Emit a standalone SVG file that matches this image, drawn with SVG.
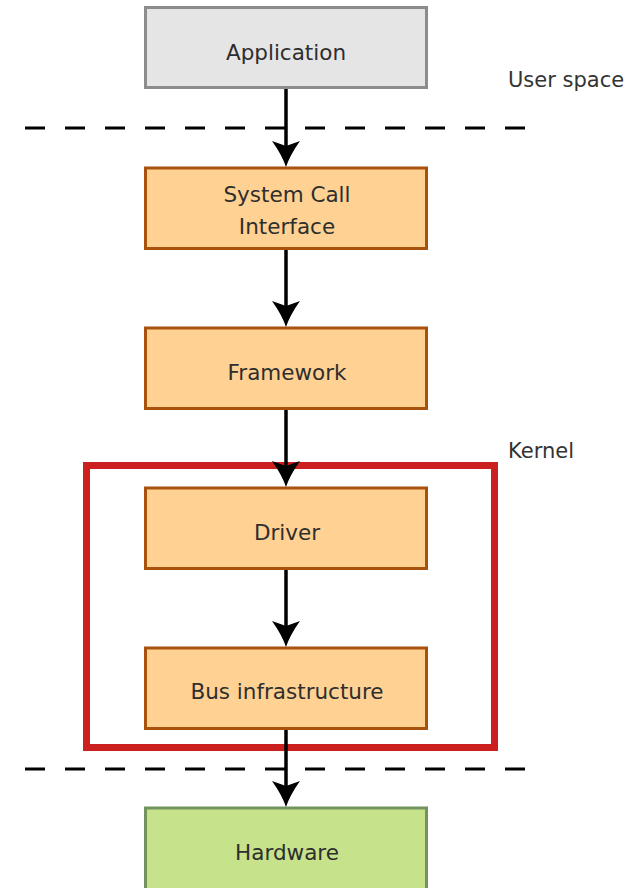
<svg xmlns="http://www.w3.org/2000/svg" width="641" height="888" viewBox="0 0 641 888">
<style>
.box{stroke-width:3}
.gray{fill:#e5e5e5;stroke:#8c8c8c}
.orange{fill:#ffd293;stroke:#a9520e}
.green{fill:#c6e28a;stroke:#72935f}
.lbl{font-family:"DejaVu Sans",sans-serif;font-size:21.5px;fill:#2e2e2e;text-anchor:middle}
.side{font-family:"DejaVu Sans",sans-serif;font-size:21px;fill:#333}
.conn{stroke:#000;stroke-width:3.5;fill:none;marker-end:url(#arr)}
.dash{stroke:#000;stroke-width:3;stroke-dasharray:20 20}
</style>
<defs>
<marker id="arr" viewBox="-20 -16 32 32" markerWidth="32" markerHeight="32" refX="0" refY="0" orient="auto" markerUnits="userSpaceOnUse">
<path d="M10,0 Q-2,-4 -16,-14 L-11,0 L-16,14 Q-2,4 10,0 Z" fill="#000"/>
</marker>
</defs>
<rect x="0" y="0" width="641" height="888" fill="#fff"/>
<g id="separators">
<line class="dash" x1="25" y1="128" x2="527" y2="128"/>
<line class="dash" x1="25" y1="769" x2="527" y2="769"/>
</g>
<g id="kernel">
<rect x="86.5" y="465.5" width="408" height="282" fill="none" stroke="#cc1f1f" stroke-width="7"/>
<text class="side" x="508" y="458">Kernel</text>
</g>
<g id="userspace">
<text class="side" x="508" y="87">User space</text>
</g>
<g id="application">
<rect class="box gray" x="145.5" y="7.5" width="281" height="80"/>
<text class="lbl" x="286" y="60">Application</text>
</g>
<g id="syscall">
<rect class="box orange" x="145.5" y="168" width="281" height="80.5"/>
<text class="lbl" x="287" y="202">System Call</text>
<text class="lbl" x="287" y="234">Interface</text>
</g>
<g id="framework">
<rect class="box orange" x="145.5" y="328" width="281" height="80.5"/>
<text class="lbl" x="287" y="380">Framework</text>
</g>
<g id="driver">
<rect class="box orange" x="145.5" y="488" width="281" height="80.5"/>
<text class="lbl" x="287" y="540">Driver</text>
</g>
<g id="bus">
<rect class="box orange" x="145.5" y="648" width="281" height="80.5"/>
<text class="lbl" x="287" y="699">Bus infrastructure</text>
</g>
<g id="hardware">
<rect class="box green" x="145.5" y="808" width="281" height="85"/>
<text class="lbl" x="287" y="860">Hardware</text>
</g>
<g id="connectors">
<line class="conn" x1="286" y1="89" x2="286" y2="157"/>
<line class="conn" x1="286" y1="250" x2="286" y2="317"/>
<line class="conn" x1="286" y1="410" x2="286" y2="477"/>
<line class="conn" x1="286" y1="570" x2="286" y2="637"/>
<line class="conn" x1="286" y1="730" x2="286" y2="797"/>
</g>
</svg>
